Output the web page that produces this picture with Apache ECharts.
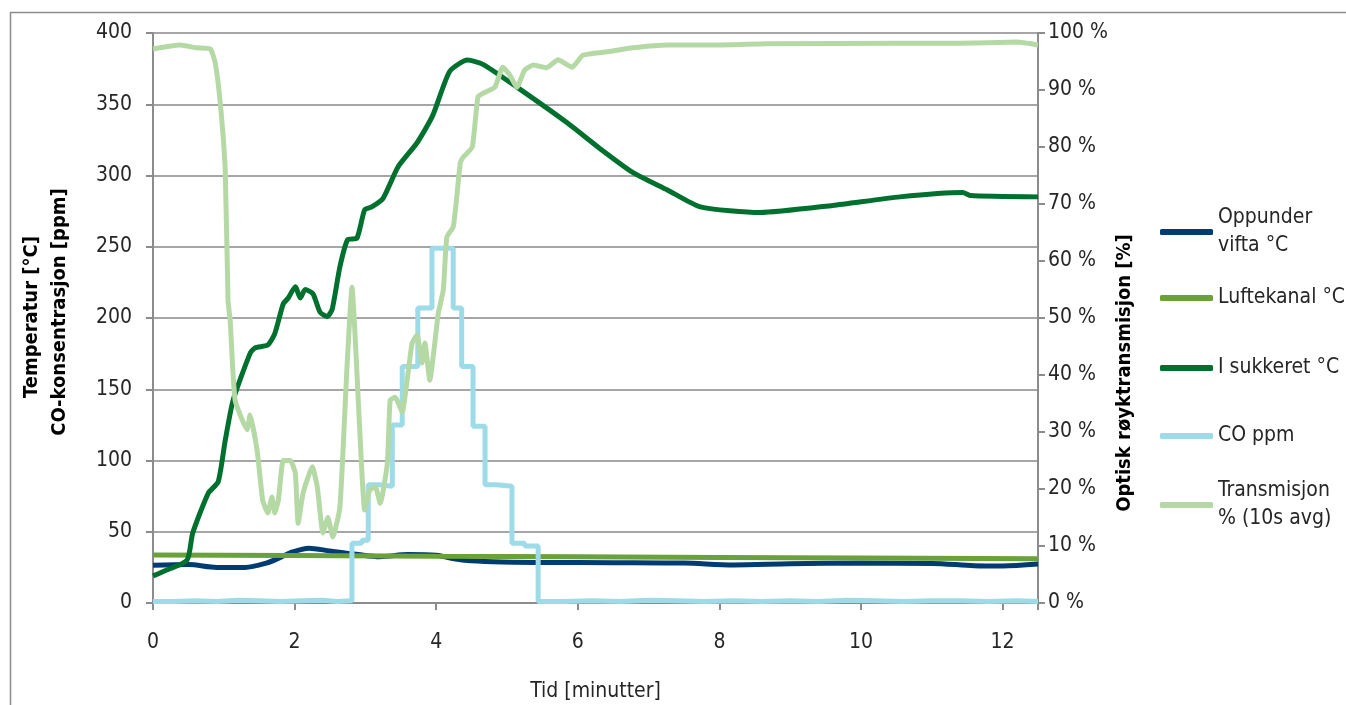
<!DOCTYPE html>
<html>
<head>
<meta charset="utf-8">
<script src="https://cdn.jsdelivr.net/npm/echarts@6/dist/echarts.min.js"></script>
<style>
  html, body { margin: 0; padding: 0; background: #fff; }
  #chart { width: 1346px; height: 705px; }
</style>
</head>
<body>
<div id="chart"></div>
<script>
// 数据
const seriesNames = ['Oppunder vifta °C', 'Luftekanal °C', 'I sukkeret °C', 'CO ppm', 'Transmisjon % (10s avg)'];
const seriesColors = ['#003c71', '#6aa13a', '#00702f', '#9ddbe8', '#b5d9a5'];

// Oppunder vifta
const viftaTime = [0, 0.5, 0.9, 1.3, 1.6, 1.8, 1.95, 2.2, 2.5, 2.9, 3.2, 3.6, 4.0, 4.2, 4.4, 4.8, 5.5, 6.5, 7.5, 8.2, 9.0, 10.0, 11.0, 11.6, 12.0, 12.5];
const viftaVal  = [26.5, 27, 25, 25, 28, 32, 35.5, 38.5, 36.5, 34, 32.5, 34, 33.5, 31.5, 30, 29, 28.5, 28.3, 28, 26.7, 27.5, 28, 27.8, 26.2, 26, 27.3];

// Luftekanal
const luftTime = [0, 2, 4, 6, 8, 10, 12.5];
const luftVal  = [33.7, 33.3, 32.8, 32.4, 32, 31.6, 31];

// I sukkeret
const sukkerTime = [0, 0.14, 0.48, 0.56, 0.78, 0.92, 1.02, 1.13, 1.37, 1.44, 1.62, 1.72, 1.84, 1.91, 2.01, 2.08, 2.15, 2.26, 2.36, 2.46, 2.53, 2.64, 2.75, 2.88, 2.99, 3.09, 3.25, 3.46, 3.73, 3.95, 4.19, 4.44, 4.66, 5.14, 5.85, 6.31, 6.78, 7.26, 7.73, 8.57, 9.6, 10.55, 11.44, 11.54, 12.5];
const sukkerVal  = [19, 22, 30, 49, 77, 85, 114, 142, 175, 179, 181, 189, 210, 214, 222, 214, 220, 217, 204, 201, 206, 236, 255, 256, 276, 278, 284, 306, 323, 342, 373, 381, 378, 362, 337, 319, 302, 290, 278, 274, 279, 285, 288, 286, 285];

// CO ppm（阶梯）
const coTime = [0, 0.3, 0.6, 0.9, 1.2, 1.5, 1.8, 2.1, 2.4, 2.6, 2.81, 2.95, 3.04, 3.2, 3.38, 3.52, 3.74, 3.94, 4.24, 4.36, 4.52, 4.69, 4.85, 5.07, 5.25, 5.44, 5.8, 6.2, 6.6, 7.0, 7.4, 7.8, 8.2, 8.6, 9.0, 9.4, 9.8, 10.2, 10.6, 11.0, 11.4, 11.8, 12.2, 12.5];
const coVal  = [1, 1.5, 1, 2, 1.5, 1, 1.5, 2, 1, 1.5, 42, 44, 83, 82, 125, 166, 207, 249, 207, 166, 124, 83, 82, 42, 40, 1, 1.5, 1, 2, 1.5, 1, 1.5, 1, 1.5, 1, 2, 1.5, 1, 1.5, 1.5, 1, 1.5, 1, 1];

// Transmisjon %
const transTime = [0, 0.38, 0.62, 0.81, 0.88, 0.95, 1.02, 1.06, 1.09, 1.16, 1.33, 1.37, 1.47, 1.55, 1.62, 1.68, 1.72, 1.77, 1.84, 1.94, 2.01, 2.05, 2.12, 2.25, 2.32, 2.4, 2.47, 2.54, 2.64, 2.74, 2.81, 2.92, 2.99, 3.06, 3.14, 3.21, 3.31, 3.35, 3.42, 3.52, 3.59, 3.66, 3.73, 3.8, 3.84, 3.91, 3.98, 4.03, 4.1, 4.15, 4.24, 4.29, 4.34, 4.38, 4.51, 4.59, 4.69, 4.83, 4.94, 5.04, 5.14, 5.25, 5.37, 5.56, 5.72, 5.92, 6.07, 6.41, 6.78, 7.26, 8.01, 8.67, 10.55, 11.4, 12.2, 12.5];
const transVal  = [97.2, 97.9, 97.4, 97.2, 94.7, 87.7, 76, 53, 49.6, 35.6, 30.4, 33, 26.8, 18, 15.8, 18.6, 15.8, 18, 25, 25, 22.8, 14, 19.3, 23.9, 20.4, 12.3, 15, 11.6, 16.8, 41.4, 55.4, 30.4, 16.3, 19.8, 20.4, 17.5, 24.5, 35.6, 36.1, 33.5, 39.1, 45.6, 47, 42.1, 45.6, 39.1, 45.6, 50.9, 54.9, 64.2, 66, 71.2, 77.2, 78.2, 80, 88.8, 89.6, 90.5, 94, 92.6, 90.5, 93.5, 94.4, 93.9, 95.3, 94, 96.1, 96.7, 97.4, 97.9, 97.9, 98.1, 98.2, 98.2, 98.4, 97.9];

const xTicks = [0, 2, 4, 6, 8, 10, 12];

const FONT = "'DejaVu Sans Condensed', 'DejaVu Sans', sans-serif";
const TEXT_COLOR = '#262626';
const AXIS_COLOR = '#8c8c8c';

function zip(xs, ys) {
    return xs.map((x, i) => [x, ys[i]]);
}

const chart = echarts.init(document.getElementById('chart'));

// 图例：每项一个 legend，便于定位
const legendTops = [190, 284, 354, 422, 463];
const legendLabels = ['Oppunder\nvifta °C', 'Luftekanal °C', 'I sukkeret °C', 'CO ppm', 'Transmisjon\n% (10s avg)'];
const legends = seriesNames.map((name, i) => {
    const twoLine = legendLabels[i].indexOf('\n') >= 0;
    return {
        left: 1160,
        top: legendTops[i],
        orient: 'vertical',
        padding: 0,
        icon: 'roundRect',
        itemWidth: 53,
        itemHeight: 6,
        itemGap: 0,
        selectedMode: false,
        formatter: () => legendLabels[i],
        data: [{
            name: name,
            textStyle: {
                fontFamily: FONT,
                fontSize: 21,
                color: TEXT_COLOR,
                lineHeight: 28,
                padding: twoLine ? [28, 0, 0, 0] : 0
            }
        }]
    };
});

const option = {
    animation: false,
    backgroundColor: '#fff',
    grid: { left: 153, right: 308, top: 33, bottom: 102, outerBoundsMode: 'none' },
    legend: legends,
    xAxis: {
        type: 'value',
        min: 0,
        max: 12.5,
        interval: 2,
        name: 'Tid [minutter]',
        nameLocation: 'middle',
        nameGap: 78,
        nameTextStyle: { fontFamily: FONT, fontSize: 21, color: TEXT_COLOR },
        axisLine: { show: true, lineStyle: { color: AXIS_COLOR, width: 2 } },
        axisTick: { show: true, length: 7, lineStyle: { color: AXIS_COLOR, width: 2 } },
        axisLabel: {
            margin: 29,
            fontFamily: FONT,
            fontSize: 21,
            color: TEXT_COLOR,
            formatter: v => (xTicks.indexOf(v) >= 0 ? String(v) : '')
        },
        splitLine: { show: false }
    },
    yAxis: [
        {
            type: 'value',
            min: 0,
            max: 400,
            interval: 50,
            axisLine: { show: true, lineStyle: { color: AXIS_COLOR, width: 2 } },
            axisTick: { show: true, length: 7, lineStyle: { color: AXIS_COLOR, width: 2 } },
            axisLabel: { margin: 21, fontFamily: FONT, fontSize: 21, color: TEXT_COLOR },
            splitLine: { show: true, lineStyle: { color: '#a6a6a6', width: 2 } }
        },
        {
            type: 'value',
            position: 'right',
            min: 0,
            max: 100,
            interval: 10,
            axisLine: { show: true, lineStyle: { color: AXIS_COLOR, width: 2 } },
            axisTick: { show: true, length: 7, lineStyle: { color: AXIS_COLOR, width: 2 } },
            axisLabel: { margin: 10, fontFamily: FONT, fontSize: 21, color: TEXT_COLOR, formatter: '{value} %' },
            splitLine: { show: false }
        }
    ],
    graphic: [
        {
            type: 'rect',
            silent: true,
            shape: { x: 10.5, y: 12.5, width: 1400, height: 800 },
            style: { fill: 'none', stroke: '#8c8c8c', lineWidth: 1.5 }
        },
        {
            type: 'text',
            x: 32, y: 317,
            rotation: Math.PI / 2,
            style: { text: 'Temperatur [°C]', fontFamily: FONT, fontWeight: 'bold', fontSize: 20, fill: '#000', align: 'center', verticalAlign: 'middle' }
        },
        {
            type: 'text',
            x: 60, y: 312,
            rotation: Math.PI / 2,
            style: { text: 'CO-konsentrasjon [ppm]', fontFamily: FONT, fontWeight: 'bold', fontSize: 20, fill: '#000', align: 'center', verticalAlign: 'middle' }
        },
        {
            type: 'text',
            x: 1125, y: 373,
            rotation: Math.PI / 2,
            style: { text: 'Optisk røyktransmisjon [%]', fontFamily: FONT, fontWeight: 'bold', fontSize: 20, fill: '#000', align: 'center', verticalAlign: 'middle' }
        }
    ],
    series: [
        {
            name: seriesNames[0], type: 'line', yAxisIndex: 0, symbol: 'none', smooth: 0.3,
            lineStyle: { width: 5, color: seriesColors[0] }, itemStyle: { color: seriesColors[0] },
            data: zip(viftaTime, viftaVal)
        },
        {
            name: seriesNames[1], type: 'line', yAxisIndex: 0, symbol: 'none',
            lineStyle: { width: 5, color: seriesColors[1] }, itemStyle: { color: seriesColors[1] },
            data: zip(luftTime, luftVal)
        },
        {
            name: seriesNames[2], type: 'line', yAxisIndex: 0, symbol: 'none', smooth: 0.2,
            lineStyle: { width: 5, color: seriesColors[2] }, itemStyle: { color: seriesColors[2] },
            data: zip(sukkerTime, sukkerVal)
        },
        {
            name: seriesNames[3], type: 'line', yAxisIndex: 0, symbol: 'none', step: 'end',
            lineStyle: { width: 5, color: seriesColors[3] }, itemStyle: { color: seriesColors[3] },
            data: zip(coTime, coVal)
        },
        {
            name: seriesNames[4], type: 'line', yAxisIndex: 1, symbol: 'none', smooth: 0.15,
            lineStyle: { width: 5, color: seriesColors[4] }, itemStyle: { color: seriesColors[4] },
            data: zip(transTime, transVal)
        }
    ]
};

chart.setOption(option);

window.addEventListener('resize', function() {
    chart.resize();
});
</script>
</body>
</html>
